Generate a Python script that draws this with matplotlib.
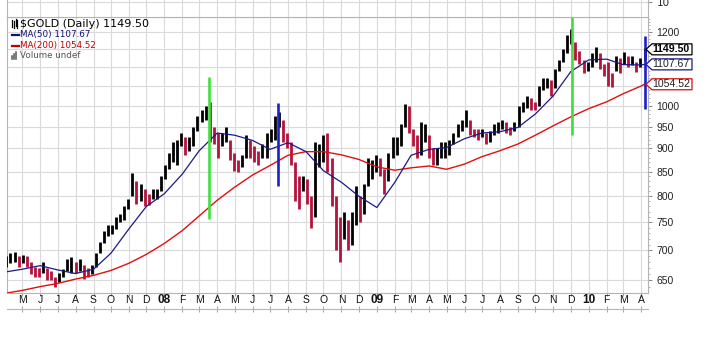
import matplotlib
matplotlib.use('Agg')
import matplotlib.pyplot as plt
import matplotlib.ticker as mticker
import matplotlib.dates as mdates
from matplotlib.patches import Polygon
from matplotlib.transforms import IdentityTransform, blended_transform_factory
import pandas as pd
import numpy as np

# ---------------- data ----------------
week_start = '2007-04-04'
highs = [
    # 2007 Apr-Dec
    690, 695, 697, 690,
    692, 690, 680, 672, 670,
    680, 670, 665, 655,
    662, 668, 685, 688,
    680, 685, 675, 670, 675,
    695, 715, 735, 745,
    745, 760, 765, 780, 795,
    848, 830, 825, 815,
    805, 815, 815, 840,
    # 2008
    865, 890, 915, 920, 935,
    925, 925, 950, 975,
    990, 1000, 1010, 950,
    935, 935, 950, 920, 890,
    875, 885, 930, 920,
    905, 895, 910, 935,
    945, 975, 985, 965, 935,
    915, 870, 840, 840,
    835, 800, 915, 910,
    930, 935, 880, 800, 760,
    770, 755, 770, 820,
    800, 825, 880, 875, 885,
    # 2009
    880, 855, 890, 925,
    925, 955, 1005, 1000,
    945, 930, 960, 955,
    930, 900, 900, 915, 915,
    920, 935, 955, 965,
    990, 965, 945, 945,
    945, 935, 940, 955, 960,
    965, 960, 950, 960,
    1000, 1010, 1025, 1020, 1010,
    1050, 1070, 1070, 1065,
    1095, 1120, 1150, 1190,
    1210, 1170, 1145, 1120, 1115,
    # 2010
    1140, 1155, 1140, 1110,
    1115, 1085, 1130, 1125,
    1142, 1130, 1130, 1115, 1125,
    1152,
]
lows = [
    672, 678, 680, 672,
    678, 672, 660, 655, 655,
    662, 650, 650, 640,
    648, 655, 665, 662,
    662, 665, 652, 655, 660,
    672, 695, 712, 725,
    728, 738, 750, 755, 775,
    800, 785, 790, 780,
    782, 795, 795, 810,
    835, 855, 870, 865, 905,
    885, 895, 905, 940,
    960, 965, 915, 910,
    880, 905, 915, 875, 852,
    850, 860, 880, 880,
    870, 865, 880, 880,
    915, 920, 950, 915, 900,
    865, 790, 775, 810,
    785, 740, 760, 860,
    870, 850, 780, 700, 680,
    720, 700, 710, 745,
    750, 765, 820, 835, 850,
    840, 805, 830, 880,
    885, 905, 950, 935,
    905, 880, 885, 915,
    880, 865, 865, 880, 880,
    885, 910, 925, 940,
    950, 930, 925, 920,
    925, 910, 915, 930, 935,
    945, 935, 930, 940,
    950, 985, 995, 990, 990,
    1000, 1040, 1045, 1025,
    1045, 1090, 1115, 1140,
    1165, 1120, 1110, 1085, 1090,
    1100, 1115, 1095, 1075,
    1050, 1047, 1090, 1085,
    1110, 1100, 1105, 1088, 1100,
    1120,
]
last_close = 1149.50

ma_dates = ['2007-04-05'] + [d.strftime('%Y-%m-%d') for d in
            pd.date_range('2007-05-01', '2010-04-01', freq='MS')] + ['2010-04-07']
ma50 = [664, 668, 674, 667, 661, 668, 695, 738, 780,
        805, 845, 895, 935, 930, 918, 898, 913, 893, 852, 828, 800,
        778, 828, 885, 898, 902, 922, 935, 938, 948, 980, 1025, 1088,
        1120, 1122, 1107, 1106, 1107.67]
ma200 = [630, 634, 640, 645, 652, 658, 666, 678, 693,
         712, 735, 762, 792, 818, 843, 863, 885, 893, 893, 886, 876,
         860, 853, 858, 862, 855, 866, 882, 895, 910, 930, 952, 973,
         993, 1010, 1030, 1050, 1054.52]

# hand-drawn annotation lines
mark_dates = ['2008-03-18', '2008-07-15', '2009-12-03', '2010-04-07']
mark_lows = [757, 820, 931, 993]
mark_highs = [1074, 1007, 1245, 1188]
mark_colors = ['#3fe03f', '#1f1fc8', '#3fe03f', '#1f1fc8']

price_ticks = [650, 700, 750, 800, 850, 900, 950, 1000, 1050, 1100, 1150, 1200]
price_labels = ['650', '700', '750', '800', '850', '900', '950', '1000', '', '', '', '1200']
month_starts = pd.date_range('2007-05-01', '2010-04-01', freq='MS')
month_labels = ['M', 'J', 'J', 'A', 'S', 'O', 'N', 'D',
                '08', 'F', 'M', 'A', 'M', 'J', 'J', 'A', 'S', 'O', 'N', 'D',
                '09', 'F', 'M', 'A', 'M', 'J', 'J', 'A', 'S', 'O', 'N', 'D',
                '10', 'F', 'M', 'A']

# ---------------- figure ----------------
W, H = 706, 353
fig = plt.figure(figsize=(W / 100, H / 100), dpi=100)
fig.patch.set_facecolor('white')

L, R, T, B = 7, 648, 17, 293
ax = fig.add_axes([L / W, 1 - B / H, (R - L) / W, (B - T) / H])
xlim = (pd.Timestamp('2007-04-05'), pd.Timestamp('2010-04-13'))
GRID = '#dadada'
SPINE = '#b4b4b4'

ax.set_yscale('log')
ax.set_ylim(630, 1245)
ax.set_xlim(*xlim)
ax.yaxis.tick_right()
ax.yaxis.set_major_locator(mticker.FixedLocator(price_ticks))
ax.yaxis.set_major_formatter(mticker.FixedFormatter(price_labels))
ax.yaxis.set_minor_locator(mticker.FixedLocator(list(range(640, 1245, 10))))
ax.yaxis.set_minor_formatter(mticker.NullFormatter())
ax.tick_params(axis='y', which='major', length=3, width=0.7, color='#888888',
               pad=3, labelsize=7.5, labelcolor='#222222')
ax.tick_params(axis='y', which='minor', length=1.5, width=0.6, color='#aaaaaa')
ax.set_xticks(month_starts)
ax.set_xticklabels([])
ax.tick_params(axis='x', length=2, color='#999999')
for t in ax.get_yticklabels():
    t.set_fontfamily('Liberation Sans')
ax.grid(True, which='major', color=GRID, linewidth=0.8)
ax.set_axisbelow(True)
for s in ax.spines.values():
    s.set_color(SPINE)
    s.set_linewidth(0.8)

# bars
wdates = pd.date_range(week_start, periods=len(highs), freq='7D')
hi = np.array(highs, float)
lo = np.array(lows, float)
mid = (hi + lo) / 2
cols = ['#000000'] + ['#000000' if mid[i] >= mid[i - 1] else '#b5123c'
                      for i in range(1, len(mid))]
ax.vlines(wdates, lo, hi, colors=cols, linewidth=2.0, zorder=3)

# moving averages
md = pd.to_datetime(ma_dates)
ax.plot(md, ma200, color='#e01010', linewidth=1.0, zorder=4)
ax.plot(md, ma50, color='#1a1a86', linewidth=0.9, zorder=4)

# annotation lines
for d, l, h, c in zip(mark_dates, mark_lows, mark_highs, mark_colors):
    ax.vlines(pd.Timestamp(d), l, h, colors=c, linewidth=1.9, zorder=5)

# ---------------- top partial panel ----------------
axt = fig.add_axes([L / W, 1 - T / H, (R - L) / W, T / H])
axt.set_xlim(*xlim)
axt.set_ylim(0, 11.7)
axt.set_xticks(month_starts)
axt.set_xticklabels([])
axt.tick_params(axis='x', length=0)
axt.yaxis.tick_right()
axt.set_yticks([10])
axt.set_yticklabels(['10'])
axt.tick_params(axis='y', length=3, color='#888888', pad=3, labelsize=7.5,
                labelcolor='#222222')
axt.grid(True, color=GRID, linewidth=0.8)
for s in axt.spines.values():
    s.set_color(SPINE)
    s.set_linewidth(0.8)
axt.spines['top'].set_visible(False)

# ---------------- month label strip ----------------
axs = fig.add_axes([L / W, 1 - 309 / H, (R - L) / W, (309 - B) / H])
axs.set_xlim(*xlim)
axs.set_ylim(0, 1)
axs.set_yticks([])
axs.set_xticks(month_starts)
axs.set_xticklabels([])
axs.tick_params(axis='x', direction='inout', length=4, color='#aaaaaa')
for k in ['top', 'left', 'right']:
    axs.spines[k].set_visible(False)
axs.spines['bottom'].set_color(SPINE)
axs.patch.set_alpha(0)
tr = blended_transform_factory(axs.transData, axs.transAxes)
for d, lab in zip(month_starts, month_labels):
    bold = lab.isdigit()
    axs.text(d, 0.55, lab, transform=tr, ha='center', va='center',
             fontsize=8.5 if bold else 7.5, fontweight='bold' if bold else 'normal',
             family='Liberation Sans', color='#111111')

# ---------------- legend text ----------------
fx = lambda px: px / W
fy = lambda py: 1 - py / H
fig.text(fx(20), fy(24), '$GOLD (Daily) %.2f' % last_close, fontsize=8.0,
         family='DejaVu Sans', color='#000000', va='center')
fig.text(fx(20), fy(35), 'MA(50) %.2f' % ma50[-1], fontsize=6.3,
         family='DejaVu Sans', color='#101070', va='center')
fig.text(fx(20), fy(45.5), 'MA(200) %.2f' % ma200[-1], fontsize=6.3,
         family='DejaVu Sans', color='#c00000', va='center')
fig.text(fx(20), fy(56), 'Volume undef', fontsize=6.3,
         family='DejaVu Sans', color='#555555', va='center')
# small icons
fig.add_artist(plt.Line2D([fx(12), fx(19)], [fy(35), fy(35)], color='#101070', lw=1.6))
fig.add_artist(plt.Line2D([fx(12), fx(19)], [fy(45.5), fy(45.5)], color='#c00000', lw=1.6))
for i, hh in enumerate([3, 5, 7]):
    fig.add_artist(plt.Line2D([fx(12 + 2.2 * i)] * 2, [fy(59), fy(59 - hh)],
                              color='#555555', lw=1.1))
for i, (a, b) in enumerate([(20, 27), (21, 28), (19, 26), (20, 28)]):
    fig.add_artist(plt.Line2D([fx(12 + 1.8 * i)] * 2, [fy(b), fy(a)],
                              color='#000000', lw=0.9))

# ---------------- right value tags ----------------
fig.canvas.draw()
tags = [(last_close, '#000000', 'bold'), (ma50[-1], '#1a1a86', 'normal'),
        (ma200[-1], '#d01010', 'normal')]
for v, c, wgt in tags:
    yd = ax.transData.transform((mdates.date2num(xlim[1]), v))[1]
    x0 = R - 2
    poly = Polygon([(x0, yd), (x0 + 6, yd + 5.5), (x0 + 46, yd + 5.5),
                    (x0 + 46, yd - 5.5), (x0 + 6, yd - 5.5)], closed=True,
                   facecolor='white', edgecolor=c, linewidth=0.9,
                   transform=IdentityTransform(), zorder=10)
    fig.add_artist(poly)
    fig.text((x0 + 6.5) / W, yd / H, '%.2f' % v, fontsize=7.6, fontweight=wgt,
             family='Liberation Sans', color='#000000' if wgt == 'bold' else '#222222',
             va='center', ha='left', zorder=11)

fig.savefig('out.png', dpi=100)
